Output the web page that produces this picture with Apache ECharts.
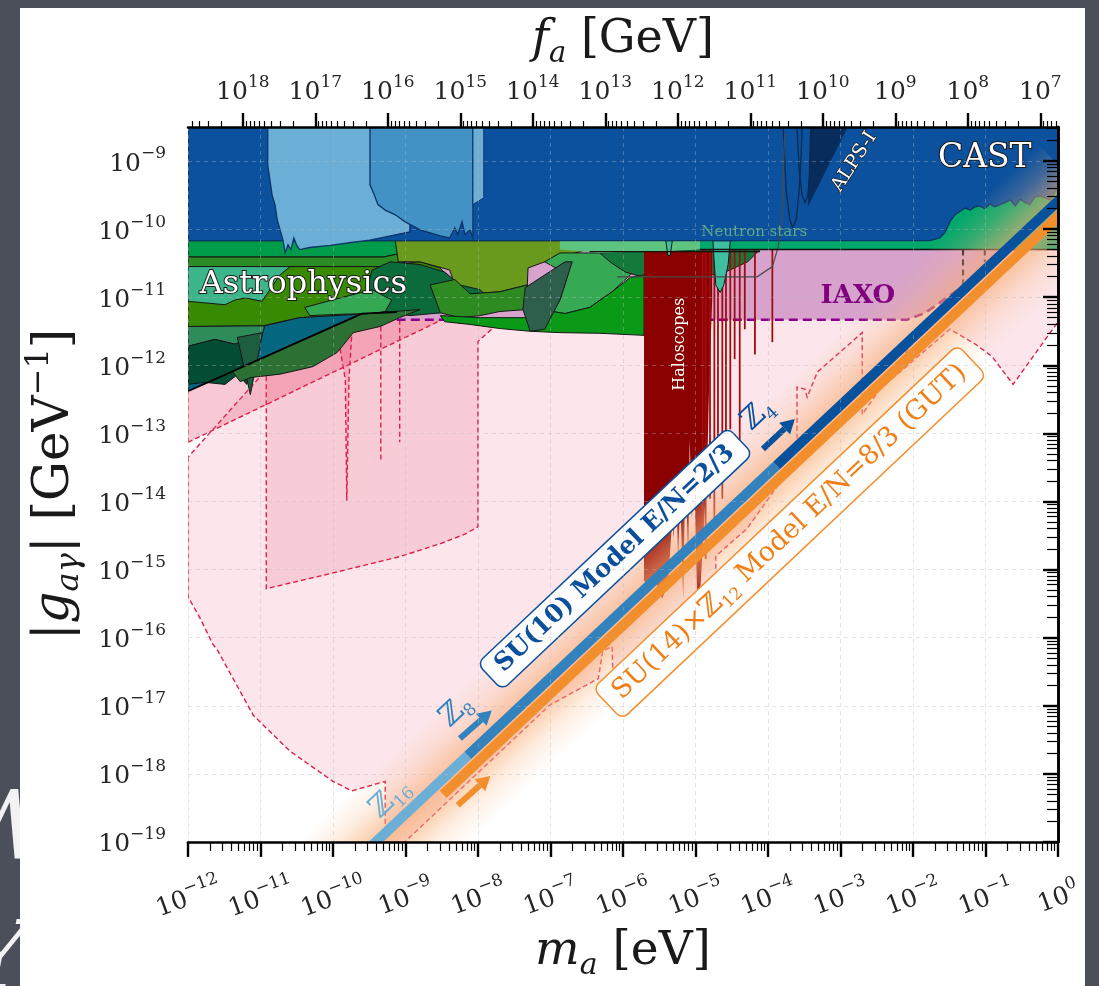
<!DOCTYPE html>
<html>
<head>
<meta charset="utf-8">
<script src="https://cdn.jsdelivr.net/npm/echarts@6/dist/echarts.min.js"></script>
<style>
  html, body { margin: 0; padding: 0; width: 1099px; height: 986px; overflow: hidden; background: #4b4f59; }
  #slide { position: absolute; left: 20px; top: 8px; width: 1065px; height: 978px; background: #ffffff; }
  #chart { position: absolute; left: 0; top: 0; width: 1099px; height: 986px; }
  .deco { position: absolute; color: #f2f2f2; font-family: "DejaVu Serif", serif; font-style: italic; }
</style>
</head>
<body>
<div class="deco" style="left:-44px; top:770px; font-size:96px;">W</div>
<div class="deco" style="left:-34px; top:900px; font-size:96px;">Y</div>
<div id="slide"></div>
<div id="chart"></div>
<script>
// ---------------------------------------------------------------------------
// Axion photon coupling |g_aγ| [GeV^-1] versus axion mass m_a [eV].
// All coordinates are stored as log10 values: [log10 m_a, log10 |g_aγ|].
// ---------------------------------------------------------------------------

const massTicks = [-12, -11, -10, -9, -8, -7, -6, -5, -4, -3, -2, -1, 0];
const couplingTicks = [-19, -18, -17, -16, -15, -14, -13, -12, -11, -10, -9];
const faTicks = [18, 17, 16, 15, 14, 13, 12, 11, 10, 9, 8, 7];
const FA_TIMES_MA = 5.7e6;          // f_a [GeV] * m_a [eV]
const MASS_RANGE = [-12, 0];
const COUPLING_RANGE = [-19, -8.5];

// --- projected sensitivities (pink, dashed) ---
const pinkOuter = [[-12,-13.35],[-12,-15.40],[-11.83,-15.72],[-11.66,-16.09],[-11.59,-16.19],[-11.10,-17.14],[-10.59,-17.67],[-10.00,-18.11],[-9.74,-18.25],[-9.28,-18.11],[-9.28,-19.00],[-9.01,-19.00],[-7.01,-16.99],[-6.34,-16.60],[-6.28,-16.20],[-6.15,-16.13],[-6.14,-16.53],[-4.72,-15.09],[-4.72,-14.80],[-4.29,-14.40],[-3.70,-13.52],[-2.70,-12.57],[-1.49,-11.47],[-1.14,-11.69],[-0.91,-11.87],[-0.62,-12.28],[0,-11.36],[0,-10.30],[-9.08,-10.30],[-10.94,-12.09]];
const pinkBox = [[-10.92,-12.16],[-10.92,-15.28],[-10.04,-15.06],[-9.08,-14.81],[-8.52,-14.62],[-8.18,-14.48],[-8.00,-14.37],[-8.00,-11.65],[-7.77,-11.43],[-7.77,-11.04],[-10.92,-11.04]];
const pinkUpper = [[-12,-13.13],[-8.34,-11.25],[-8.34,-11.04],[-12,-11.04]];
const dipFunnel = [[-9.94,-11.52],[-9.83,-12.21],[-9.81,-13.99],[-9.78,-12.21],[-9.74,-11.52]];
const dipLineA = [[-9.34,-11.43],[-9.34,-13.41]];
const dipLineB = [[-9.08,-11.33],[-9.08,-13.13]];
const notchLine = [[-3.60,-13.08],[-3.60,-12.32],[-3.49,-12.35],[-3.46,-12.47],[-3.32,-12.10],[-2.70,-11.52],[-2.70,-12.72],[-2.04,-11.72]];

// --- IAXO ---
const iaxoBoundary = [[-9.12,-11.33],[-2.08,-11.33],[-1.83,-11.23],[-1.63,-11.08],[-1.42,-10.92],[-1.21,-10.79],[-0.94,-10.60],[-0.77,-10.42],[-0.69,-10.30]];
const iaxoCorner = [-9.12, -10.30];
const babyIaxoA = [[-1.31,-10.30],[-1.31,-10.92]];
const babyIaxoB = [[-1.01,-10.30],[-1.01,-10.48]];

// --- astrophysical bounds (greens) ---
const hbStrip = [[-12,-10.17],[-8.39,-10.17],[-8.80,-10.29],[-9.08,-10.36],[-9.31,-10.41],[-12,-10.41]];
const stripTwo = [[-12,-10.41],[-9.31,-10.41],[-9.08,-10.36],[-8.80,-10.29],[-8.39,-10.20],[-8.80,-10.42],[-9.08,-10.51],[-9.35,-10.55],[-12,-10.55]];
const nsStrip = [[-4.94,-10.17],[-1.77,-10.17],[-1.77,-9.57],[0,-9.28],[0,-10.30],[-4.94,-10.30]];
const seafoam = [[-6.87,-10.17],[-4.94,-10.17],[-4.94,-10.30],[-5.49,-10.33],[-6.32,-10.35],[-6.87,-10.30]];
const forest = [[-12,-10.55],[-9.35,-10.55],[-9.08,-10.51],[-8.80,-10.48],[-8.52,-10.57],[-8.39,-10.74],[-8.52,-10.96],[-8.80,-11.11],[-9.08,-11.21],[-9.49,-11.25],[-9.90,-11.27],[-10.46,-11.30],[-10.97,-11.42],[-12,-11.43]];
const tealBand = [[-12,-10.55],[-10.59,-10.55],[-10.73,-10.67],[-10.87,-10.89],[-10.98,-11.06],[-11.21,-11.01],[-11.35,-11.04],[-11.49,-11.11],[-12,-11.06]];
const olive = [[-9.14,-10.17],[-6.18,-10.17],[-6.59,-10.33],[-7.08,-10.48],[-7.31,-10.57],[-7.32,-10.82],[-7.70,-10.92],[-8.11,-10.95],[-8.32,-10.82],[-8.39,-10.60],[-8.80,-10.48],[-9.10,-10.48]];
const blob = [[-9.46,-10.60],[-9.21,-10.48],[-8.80,-10.52],[-8.46,-10.63],[-8.25,-10.82],[-7.97,-10.89],[-7.83,-11.04],[-8.11,-11.15],[-8.52,-11.23],[-8.94,-11.27],[-9.28,-11.21],[-9.46,-11.04],[-9.52,-10.82]];
const medGreen = [[-8.66,-10.82],[-8.32,-10.74],[-8.11,-10.95],[-7.70,-10.92],[-7.32,-10.82],[-7.32,-11.18],[-7.70,-11.21],[-7.97,-11.27],[-8.25,-11.30],[-8.52,-11.23]];
const lightGreen = [[-10.39,-11.15],[-9.90,-11.01],[-9.46,-10.89],[-9.19,-11.04],[-9.28,-11.21],[-9.49,-11.24],[-9.90,-11.25],[-10.32,-11.27]];
const swoosh = [[-7.08,-10.48],[-6.87,-10.35],[-5.71,-10.35],[-5.71,-10.52],[-5.90,-10.67],[-6.15,-10.92],[-6.46,-11.15],[-6.80,-11.24],[-6.97,-11.21],[-6.87,-11.04],[-6.76,-10.67]];
const darkRight = [[-6.32,-10.35],[-4.94,-10.30],[-4.11,-10.30],[-4.28,-10.48],[-4.59,-10.63],[-4.94,-10.71],[-5.35,-10.74],[-5.71,-10.71],[-5.97,-10.63],[-6.18,-10.48]];
const brightGreen = [[-8.52,-11.27],[-7.97,-11.30],[-7.32,-11.30],[-6.97,-11.21],[-6.80,-11.24],[-6.46,-11.15],[-6.15,-10.92],[-5.90,-10.71],[-5.71,-10.67],[-5.71,-11.56],[-6.32,-11.53],[-6.87,-11.52],[-7.28,-11.50],[-7.70,-11.46],[-8.11,-11.40],[-8.46,-11.36]];
const slate = [[-7.35,-10.86],[-6.80,-10.48],[-6.70,-10.48],[-6.87,-11.04],[-7.08,-11.47],[-7.28,-11.50],[-7.38,-11.18]];
const sage = [[-12,-11.43],[-10.97,-11.42],[-10.87,-11.52],[-10.98,-11.59],[-11.14,-11.59],[-11.35,-11.69],[-11.63,-11.62],[-12,-11.72]];
const tealBlue = [[-12,-12.38],[-9.63,-11.25],[-10.46,-11.30],[-10.94,-11.42],[-11.08,-11.91],[-12,-12.28]];
const pine = [[-12,-11.72],[-11.63,-11.62],[-11.35,-11.69],[-11.14,-11.59],[-10.98,-11.56],[-11.08,-11.91],[-11.19,-12.28],[-11.31,-12.13],[-11.49,-12.28],[-11.77,-12.25],[-12,-12.28]];
const spikeWedge = [[-11.32,-11.59],[-10.97,-11.52],[-11.14,-12.43]];
const moss = [[-11.39,-12.09],[-9.63,-11.25],[-8.80,-11.18],[-9.08,-11.30],[-9.35,-11.43],[-9.72,-11.52],[-9.94,-11.81],[-10.28,-12.02],[-10.73,-12.13],[-11.14,-12.18],[-11.28,-12.24]];
const mossEdge = [[-12,-12.38],[-9.60,-11.24],[-9.12,-11.22]];

// --- haloscopes ---
const haloscopeEdge = [[-5.71,-10.33],[-4.77,-10.33],[-4.77,-11.04],[-4.81,-12.21],[-4.84,-13.52],[-4.88,-14.26],[-4.91,-14.84],[-4.94,-15.43],[-4.98,-15.28],[-5.02,-13.52],[-5.05,-14.26],[-5.08,-13.08],[-5.10,-14.84],[-5.14,-13.52],[-5.17,-15.43],[-5.21,-13.96],[-5.24,-14.84],[-5.27,-13.67],[-5.30,-14.55],[-5.32,-14.26],[-5.38,-15.21],[-5.46,-15.43],[-5.54,-15.21],[-5.63,-15.28],[-5.71,-15.16]];
const haloTop = -10.30;
const haloSpikeMass = [-4.90, -4.86, -4.80, -4.74, -4.69, -4.63, -4.58, -4.52, -4.46, -4.39, -4.32, -4.18, -3.94];
const haloSpikeFloor = [-14.55, -14.84, -13.96, -14.40, -13.52, -13.96, -13.38, -12.94, -11.91, -13.23, -11.47, -11.84, -11.66];
const nsDipMain = [[-4.76,-10.17],[-4.52,-10.17],[-4.55,-10.52],[-4.61,-10.82],[-4.66,-10.93],[-4.72,-10.82],[-4.74,-10.52]];
const nsDipSmall = [[-5.41,-10.17],[-5.32,-10.17],[-5.35,-10.39],[-5.38,-10.39]];

// --- helioscopes / light shining through walls (blues) ---
const castEdge = [[-12,-8.5],[0,-8.5],[0,-9.40],[-0.04,-9.45],[-0.11,-9.57],[-0.18,-9.54],[-0.25,-9.51],[-0.32,-9.53],[-0.39,-9.64],[-0.45,-9.61],[-0.52,-9.56],[-0.59,-9.66],[-0.66,-9.57],[-0.73,-9.61],[-0.80,-9.64],[-0.87,-9.67],[-0.94,-9.63],[-1.01,-9.70],[-1.08,-9.66],[-1.14,-9.67],[-1.21,-9.72],[-1.28,-9.69],[-1.42,-9.79],[-1.49,-9.89],[-1.56,-10.05],[-1.63,-10.13],[-1.77,-10.17],[-12,-10.17]];
const lightBlue = [[-10.90,-8.5],[-10.90,-9.06],[-10.87,-9.28],[-10.84,-9.50],[-10.80,-9.64],[-10.77,-9.86],[-10.73,-10.01],[-10.69,-10.16],[-10.66,-10.35],[-10.62,-10.23],[-10.58,-10.30],[-10.54,-10.13],[-10.50,-10.24],[-10.46,-10.30],[-10.32,-10.27],[-10.04,-10.24],[-9.77,-10.20],[-9.49,-10.16],[-8.94,-10.04],[-8.91,-8.5]];
const midBlue = [[-9.49,-8.5],[-9.49,-9.35],[-9.43,-9.50],[-9.38,-9.64],[-9.28,-9.72],[-9.14,-9.79],[-9.01,-9.89],[-8.80,-10.01],[-8.52,-10.10],[-8.39,-10.13],[-8.32,-9.98],[-8.28,-10.08],[-8.22,-9.89],[-8.18,-10.08],[-8.11,-10.01],[-8.07,-10.13],[-8.07,-8.5]];
const blueSliver = [[-8.07,-8.5],[-7.92,-8.5],[-7.92,-9.54],[-8.07,-9.64]];
const alpsWedge = [[-3.42,-8.5],[-2.90,-8.5],[-3.45,-9.67]];
const alpsCurveA = [[-3.79,-8.5],[-3.75,-9.42],[-3.70,-9.86],[-3.66,-9.98],[-3.61,-9.86],[-3.57,-9.42],[-3.54,-8.84],[-3.53,-8.5]];
const alpsCurveB = [[-3.60,-8.5],[-3.57,-9.13],[-3.53,-9.50],[-3.49,-9.61],[-3.45,-9.50],[-3.42,-9.13],[-3.39,-8.5]];
const roundedTrace = [[-6.08,-10.70],[-4.15,-10.70],[-3.94,-10.55],[-3.86,-10.26],[-3.81,-9.86],[-3.77,-8.59]];
const ledgeLine = [[-6.46,-10.33],[-4.11,-10.33]];
const iaxoTopLine = [[-4.94,-10.30],[0,-10.30]];

// --- model bands ---
const glowPath = [[-9.90,-19.60],[0.30,-9.40]];
const blueLight = [[-9.51,-19.10],[-8.14,-17.73]];
const blueMid = [[-8.14,-17.73],[-3.88,-13.47]];
const blueDark = [[-3.88,-13.47],[0.20,-9.39]];
const orangeBand = [[-8.48,-18.30],[0.20,-9.62]];
const arrowZ8 = [[-8.25,-17.48],[-7.81,-17.07]];
const arrowZ4 = [[-4.07,-13.23],[-3.63,-12.79]];
const arrowGut = [[-8.28,-18.46],[-7.83,-18.03]];

// ---------------------------------------------------------------------------
const F = '"DejaVu Serif","Liberation Serif",serif';
const LOG_FA = Math.log10(FA_TIMES_MA);
const BAND_ANGLE = 0.756;

function minorLogs(lo, hi) {
  const out = [];
  for (let d = lo; d < hi; d++) for (let k = 2; k <= 9; k++) out.push(d + Math.log10(k));
  return out;
}
const massMinor = minorLogs(MASS_RANGE[0], MASS_RANGE[1]);
const couplingMinor = minorLogs(-19, -8).filter(v => v <= COUPLING_RANGE[1]);
const faMinor = minorLogs(6, 19).map(v => LOG_FA - v).filter(v => v >= MASS_RANGE[0] && v <= MASS_RANGE[1]);

const series = [];
let zc = 2;
function custom(data, renderItem, clip) {
  series.push({ type: 'custom', coordinateSystem: 'cartesian2d', silent: true, clip: clip !== false, z: zc++, data, renderItem });
}
function poly(pts, style) {
  custom([pts[0]], (p, api) => ({ type: 'polygon', shape: { points: pts.map(q => api.coord(q)) }, style: Object.assign({}, style) }));
}
function path(pts, style) {
  custom([pts[0]], (p, api) => ({ type: 'polyline', shape: { points: pts.map(q => api.coord(q)) }, style: Object.assign({ fill: null }, style) }));
}
function band(pts, width, color) {
  custom([pts[0]], (p, api) => ({ type: 'polyline', shape: { points: pts.map(q => api.coord(q)) },
    style: { fill: null, stroke: color, lineWidth: width, lineCap: 'butt' } }));
}
function glow(pts, width, stops) {
  custom([pts[0]], (p, api) => {
    const a = api.coord(pts[0]), b = api.coord(pts[1]);
    const dx = b[0] - a[0], dy = b[1] - a[1], L = Math.hypot(dx, dy);
    const nx = -dy / L, ny = dx / L, h = width / 2;
    const grad = new echarts.graphic.LinearGradient(a[0] - nx * h, a[1] - ny * h, a[0] + nx * h, a[1] + ny * h, stops, true);
    return { type: 'polyline', shape: { points: [a, b] }, style: { fill: null, stroke: grad, lineWidth: width, lineCap: 'butt' } };
  });
}

const pinkDash = { stroke: '#de1f4a', lineWidth: 1.4, lineDash: [5, 3] };
const edge = { stroke: '#161616', lineWidth: 1 };

// projections
poly(pinkOuter, Object.assign({ fill: 'rgba(230,60,100,0.13)' }, pinkDash));
poly(pinkBox, Object.assign({ fill: 'rgba(230,60,100,0.15)' }, pinkDash));
poly(pinkUpper, Object.assign({ fill: 'rgba(230,60,100,0.28)' }, pinkDash));
poly(dipFunnel, Object.assign({ fill: 'rgba(230,60,100,0.22)' }, pinkDash));
path(dipLineA, pinkDash);
path(dipLineB, pinkDash);
path(notchLine, pinkDash);
poly(iaxoBoundary.concat([iaxoCorner]), { fill: '#d7a2cc' });
path(iaxoBoundary, { stroke: '#8b008b', lineWidth: 2.6, lineDash: [9, 5] });
path(babyIaxoA, { stroke: '#111', lineWidth: 2, lineDash: [6, 4] });
path(babyIaxoB, { stroke: '#111', lineWidth: 2, lineDash: [6, 4] });

// astrophysics
poly(hbStrip, Object.assign({ fill: '#009c4a' }, edge));
poly(stripTwo, Object.assign({ fill: '#2b8b24' }, edge));
poly(forest, Object.assign({ fill: '#388a02' }, edge));
poly(tealBand, Object.assign({ fill: '#3db58a' }, edge));
poly(olive, Object.assign({ fill: '#6a9a1d' }, edge));
poly(blob, Object.assign({ fill: '#0b6b3b' }, edge));
poly(medGreen, Object.assign({ fill: '#2e8b22' }, edge));
poly(lightGreen, Object.assign({ fill: '#34a853' }, edge));
poly(swoosh, Object.assign({ fill: '#36a955' }, edge));
poly(darkRight, Object.assign({ fill: '#137a3c' }, edge));
poly(brightGreen, Object.assign({ fill: '#0a9a18' }, edge));
poly(slate, Object.assign({ fill: '#2e5e4c' }, edge));
poly(sage, Object.assign({ fill: '#2f8b5a' }, edge));
poly(tealBlue, Object.assign({ fill: '#05677f' }, edge));
poly(pine, Object.assign({ fill: '#024d33' }, edge));
poly(spikeWedge, Object.assign({ fill: '#1e5e40' }, edge));
poly(moss, Object.assign({ fill: '#2c7133' }, edge));
path(mossEdge, { stroke: '#000', lineWidth: 1.8 });
poly(seafoam, { fill: '#5cc47e' });
poly(nsStrip, { fill: '#00a86b' });

// haloscopes
poly(haloscopeEdge, { fill: '#8b0000' });
custom(haloSpikeMass.map((m, i) => [m, haloSpikeFloor[i]]), (p, api) => {
  const a = api.coord([api.value(0), haloTop]);
  const b = api.coord([api.value(0), api.value(1)]);
  return { type: 'line', shape: { x1: a[0], y1: a[1], x2: b[0], y2: b[1] }, style: { stroke: '#a10d0d', lineWidth: 1.8 } };
});
poly(nsDipMain, Object.assign({ fill: '#3ebfa2' }, edge));
poly(nsDipSmall, Object.assign({ fill: '#3ebfa2' }, edge));

// helioscopes & LSW
poly(castEdge, { fill: '#0b519e', stroke: '#0a3568', lineWidth: 1.3 });
poly(lightBlue, { fill: '#6baed6', stroke: '#0a3568', lineWidth: 1.3 });
poly(midBlue, { fill: '#4292c6', stroke: '#0a3568', lineWidth: 1.3 });
poly(blueSliver, { fill: '#6baed6', stroke: '#0a3568', lineWidth: 1 });
poly(alpsWedge, { fill: '#082d5c' });
path(alpsCurveA, { stroke: '#0a2a52', lineWidth: 1.3 });
path(alpsCurveB, { stroke: '#0a2a52', lineWidth: 1.3 });
path(roundedTrace, { stroke: '#4a4a4a', lineWidth: 1.2 });
path(ledgeLine, { stroke: '#111', lineWidth: 1.2 });
path(iaxoTopLine, { stroke: '#111', lineWidth: 1.6 });

// soft glow around the model bands
glow(glowPath, 120, [
  { offset: 0.00, color: 'rgba(250,185,135,0)' },
  { offset: 0.20, color: 'rgba(250,185,135,0.22)' },
  { offset: 0.38, color: 'rgba(248,175,120,0.55)' },
  { offset: 0.50, color: 'rgba(248,170,115,0.70)' },
  { offset: 0.62, color: 'rgba(248,175,120,0.55)' },
  { offset: 0.80, color: 'rgba(250,185,135,0.22)' },
  { offset: 1.00, color: 'rgba(250,185,135,0)' }
]);

// model bands
band(orangeBand, 10, '#f28e2b');
band(blueLight, 10, '#6baed6');
band(blueMid, 10, '#3182bd');
band(blueDark, 10, '#08519c');

// arrows pointing along the bands
const arrows = [
  { pts: arrowZ8, color: '#3182bd' },
  { pts: arrowZ4, color: '#08519c' },
  { pts: arrowGut, color: '#f28e2b' }
];
custom(arrows.map(a => a.pts[1]), (p, api) => {
  const a = arrows[p.dataIndex];
  const p0 = api.coord(a.pts[0]), p1 = api.coord(a.pts[1]);
  const dx = p1[0] - p0[0], dy = p1[1] - p0[1], L = Math.hypot(dx, dy);
  const ux = dx / L, uy = dy / L, nx = -uy, ny = ux;
  const head = 14, hw = 8;
  const b = [p1[0] - ux * head, p1[1] - uy * head];
  return { type: 'group', children: [
    { type: 'line', shape: { x1: p0[0], y1: p0[1], x2: b[0], y2: b[1] }, style: { stroke: a.color, lineWidth: 6 } },
    { type: 'polygon', shape: { points: [p1, [b[0] + nx * hw, b[1] + ny * hw], [b[0] - nx * hw, b[1] - ny * hw]] }, style: { fill: a.color } }
  ] };
}, false);

// text annotations
const outlined = { fill: '#ffffff', stroke: '#1c1c1c', lineWidth: 2 };
function rich(color, size, weight) {
  return {
    t: { fontFamily: F, fontSize: size, fontWeight: weight, fill: color, color: color, lineHeight: size + 8, verticalAlign: 'middle' },
    z: { fontFamily: F, fontSize: size + 2, fontWeight: weight, fill: color, color: color, lineHeight: size + 8, verticalAlign: 'middle' },
    sub: { fontFamily: F, fontSize: Math.round(size * 0.62), fontWeight: weight, fill: color, color: color, lineHeight: Math.round(size * 0.62) + 2, verticalAlign: 'bottom' }
  };
}
const notes = [
  { text: 'CAST', at: [-1.01, -8.96], rot: 0, style: Object.assign({ fontSize: 33, fontFamily: F }, outlined) },
  { text: 'ALPS-I', at: [-2.81, -9.01], rot: 0.995, style: Object.assign({ fontSize: 19, fontFamily: F }, outlined, { lineWidth: 1.5 }) },
  { text: 'Astrophysics', at: [-10.41, -10.82], rot: 0, style: Object.assign({ fontSize: 32, fontFamily: F }, outlined) },
  { text: 'Neutron stars', at: [-4.19, -10.05], rot: 0, style: { fill: '#5fa884', fontSize: 15, fontFamily: F } },
  { text: 'IAXO', at: [-2.76, -10.99], rot: 0, style: { fill: '#800080', fontSize: 26, fontWeight: 'bold', fontFamily: F } },
  { text: 'Haloscopes', at: [-5.21, -11.69], rot: Math.PI / 2, style: { fill: '#ffffff', fontSize: 16, fontFamily: F } },
  { text: '{z|ℤ}{sub|16}', at: [-9.21, -18.36], rot: BAND_ANGLE, style: { rich: rich('#6baed6', 28, 'normal') } },
  { text: '{z|ℤ}{sub|8}', at: [-8.30, -17.08], rot: BAND_ANGLE, style: { rich: rich('#3182bd', 28, 'normal') } },
  { text: '{z|ℤ}{sub|4}', at: [-4.14, -12.72], rot: BAND_ANGLE, style: { rich: rich('#08519c', 28, 'normal') } },
  { text: 'SU(10) Model E/N=2/3', at: [-6.11, -14.84], rot: BAND_ANGLE,
    style: { fill: '#0b4f9c', fontSize: 25, fontWeight: 'bold', fontFamily: F, backgroundColor: '#fdfdfd', borderColor: '#0b4f9c', borderWidth: 1.5, borderRadius: 7, padding: [5, 12] } },
  { text: '{t|SU(14)×}{z|ℤ}{sub|12}{t| Model E/N=8/3 (GUT)}', at: [-3.70, -14.45], rot: BAND_ANGLE,
    style: { rich: rich('#ef7f14', 27, 'normal'), backgroundColor: '#fdfdfd', borderColor: '#f28e2b', borderWidth: 1.5, borderRadius: 7, padding: [3, 12] } }
];
custom(notes.map(n => n.at), (p, api) => {
  const n = notes[p.dataIndex];
  const c = api.coord(n.at);
  return { type: 'text', x: c[0], y: c[1], rotation: n.rot,
    style: Object.assign({ text: n.text, align: 'center', verticalAlign: 'middle' }, n.style) };
}, false);

// ---------------------------------------------------------------------------
const ink = '#1a1a1a';
const tickRich = {
  b: { fontFamily: F, fontSize: 25, color: '#262626', lineHeight: 31, verticalAlign: 'bottom' },
  s: { fontFamily: F, fontSize: 17, color: '#262626', lineHeight: 19, verticalAlign: 'top' }
};
function titleRich(size) {
  return {
    i: { fontFamily: F, fontStyle: 'italic', fontSize: size, color: ink, lineHeight: size + 12, verticalAlign: 'middle' },
    r: { fontFamily: F, fontSize: size, color: ink, lineHeight: size + 12, verticalAlign: 'middle' },
    sub: { fontFamily: F, fontStyle: 'italic', fontSize: Math.round(size * 0.63), color: ink, lineHeight: Math.round(size * 0.76), verticalAlign: 'bottom' },
    sup: { fontFamily: F, fontSize: Math.round(size * 0.63), color: ink, lineHeight: Math.round(size * 0.67), verticalAlign: 'top' }
  };
}
const exp = v => (v === 0 ? '0' : '−' + Math.abs(v));
const frame = { show: true, lineStyle: { color: '#000', width: 2.6 } };
const noLine = { show: false };
const grid = { show: true, lineStyle: { color: 'rgba(185,185,185,0.38)', width: 1, type: [4, 4] } };

const option = {
  animation: false,
  grid: { left: 188, top: 127, width: 870, height: 718, containLabel: false },
  xAxis: [
    { type: 'value', min: MASS_RANGE[0], max: MASS_RANGE[1], interval: 1, position: 'bottom', z: 200,
      axisLine: frame, splitLine: grid,
      axisTick: { show: true, length: 15, customValues: massTicks, lineStyle: { color: '#000', width: 2.4 } },
      axisLabel: { customValues: massTicks, rotate: 20, align: 'center', verticalAlign: 'middle', margin: 54,
        formatter: v => `{b|10}{s|${exp(v)}}`, rich: tickRich },
      name: '{i|m}{sub|a}{r| [eV]}', nameLocation: 'middle', nameGap: 76,
      nameTextStyle: { rich: titleRich(47), verticalAlign: 'top' } },
    { type: 'value', min: MASS_RANGE[0], max: MASS_RANGE[1], position: 'bottom', z: 200,
      axisLine: noLine, splitLine: { show: false }, axisLabel: { show: false },
      axisTick: { show: true, length: 9, customValues: massMinor, lineStyle: { color: '#000', width: 1.2 } } },
    { type: 'value', min: MASS_RANGE[0], max: MASS_RANGE[1], position: 'top', z: 200,
      axisLine: frame, splitLine: { show: false },
      axisTick: { show: true, length: 14, customValues: faTicks.map(n => LOG_FA - n), lineStyle: { color: '#000', width: 2.4 } },
      axisLabel: { customValues: faTicks.map(n => LOG_FA - n), margin: 22,
        formatter: v => `{b|10}{s|${Math.round(LOG_FA - v)}}`, rich: tickRich },
      name: '{i|f}{sub|a}{r| [GeV]}', nameLocation: 'middle', nameGap: 56,
      nameTextStyle: { rich: titleRich(46), verticalAlign: 'bottom' } },
    { type: 'value', min: MASS_RANGE[0], max: MASS_RANGE[1], position: 'top', z: 200,
      axisLine: noLine, splitLine: { show: false }, axisLabel: { show: false },
      axisTick: { show: true, length: 6, customValues: faMinor, lineStyle: { color: '#000', width: 1.2 } } }
  ],
  yAxis: [
    { type: 'value', min: COUPLING_RANGE[0], max: COUPLING_RANGE[1], interval: 1, position: 'left', z: 200,
      axisLine: frame, splitLine: grid,
      axisTick: { show: true, length: 15, customValues: couplingTicks, lineStyle: { color: '#000', width: 2.4 } },
      axisLabel: { customValues: couplingTicks, margin: 22, formatter: v => `{b|10}{s|${exp(v)}}`, rich: tickRich },
      name: '{r||}{i|g}{sub|aγ}{r|| [GeV}{sup|−1}{r|]}', nameLocation: 'middle', nameGap: 102, nameRotate: 90,
      nameTextStyle: { rich: titleRich(50) } },
    { type: 'value', min: COUPLING_RANGE[0], max: COUPLING_RANGE[1], position: 'left', z: 200,
      axisLine: noLine, splitLine: { show: false }, axisLabel: { show: false },
      axisTick: { show: true, length: 11, customValues: couplingMinor, lineStyle: { color: '#000', width: 1.2 } } },
    { type: 'value', min: COUPLING_RANGE[0], max: COUPLING_RANGE[1], position: 'right', z: 200,
      axisLine: frame, splitLine: { show: false }, axisLabel: { show: false }, axisTick: { show: false } }
  ],
  series: series
};

const chart = echarts.init(document.getElementById('chart'), null, { renderer: 'canvas' });
chart.setOption(option);
</script>
</body>
</html>
